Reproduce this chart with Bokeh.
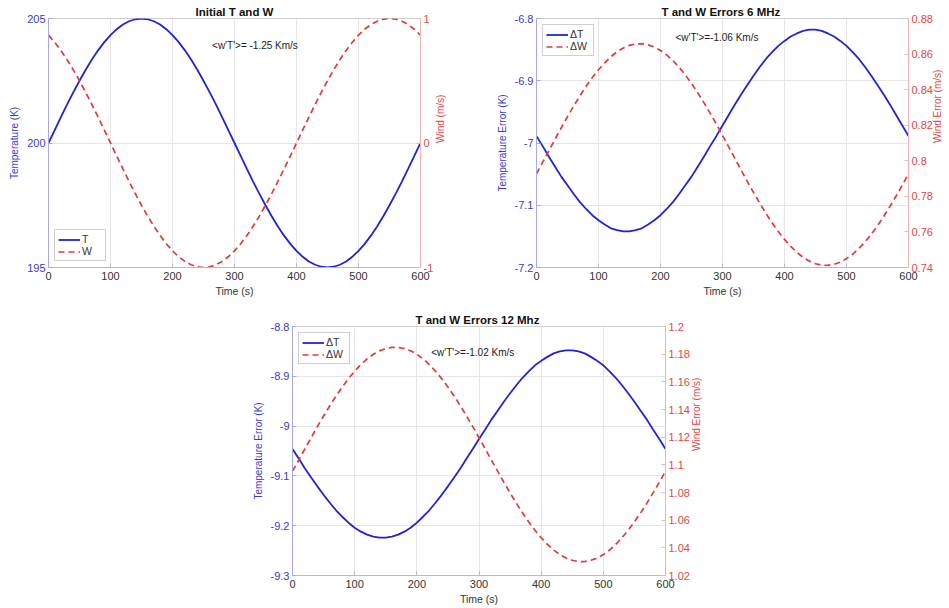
import math
from bokeh.plotting import figure
from bokeh.models import Range1d, LinearAxis, CustomJSTickFormatter, Label, Spacer
from bokeh.layouts import column, row
from bokeh.embed import file_html
from bokeh.resources import INLINE

# ---------------- data (every 10 s) ----------------
time_s = list(range(0, 601, 10))

temp_initial = [200.0, 200.52, 201.04, 201.55, 202.03, 202.5, 202.94, 203.35, 203.72, 204.05,
                204.33, 204.57, 204.76, 204.89, 204.97, 205.0, 204.97, 204.89, 204.76, 204.57,
                204.33, 204.05, 203.72, 203.35, 202.94, 202.5, 202.03, 201.55, 201.04, 200.52,
                200.0, 199.48, 198.96, 198.45, 197.97, 197.5, 197.06, 196.65, 196.28, 195.95,
                195.67, 195.43, 195.24, 195.11, 195.03, 195.0, 195.03, 195.11, 195.24, 195.43,
                195.67, 195.95, 196.28, 196.65, 197.06, 197.5, 197.97, 198.45, 198.96, 199.48, 200.0]
wind_initial = [0.866, 0.809, 0.743, 0.669, 0.588, 0.5, 0.407, 0.309, 0.208, 0.105,
                0.0, -0.105, -0.208, -0.309, -0.407, -0.5, -0.588, -0.669, -0.743, -0.809,
                -0.866, -0.914, -0.951, -0.978, -0.995, -1.0, -0.995, -0.978, -0.951, -0.914,
                -0.866, -0.809, -0.743, -0.669, -0.588, -0.5, -0.407, -0.309, -0.208, -0.105,
                0.0, 0.105, 0.208, 0.309, 0.407, 0.5, 0.588, 0.669, 0.743, 0.809,
                0.866, 0.914, 0.951, 0.978, 0.995, 1.0, 0.995, 0.978, 0.951, 0.914, 0.866]

dT_6mhz = [-6.989, -7.005, -7.022, -7.038, -7.054, -7.068, -7.082, -7.095, -7.106, -7.116,
           -7.124, -7.131, -7.137, -7.140, -7.142, -7.142, -7.140, -7.137, -7.131, -7.124,
           -7.116, -7.106, -7.095, -7.082, -7.068, -7.054, -7.038, -7.022, -7.005, -6.989,
           -6.972, -6.955, -6.938, -6.922, -6.907, -6.892, -6.878, -6.865, -6.854, -6.844,
           -6.836, -6.829, -6.824, -6.820, -6.818, -6.818, -6.820, -6.824, -6.829, -6.836,
           -6.844, -6.854, -6.865, -6.878, -6.892, -6.907, -6.922, -6.938, -6.955, -6.972, -6.989]
dW_6mhz = [0.7927, 0.7992, 0.8057, 0.8122, 0.8186, 0.8248, 0.8308, 0.8365, 0.8419, 0.8468,
           0.8512, 0.8551, 0.8585, 0.8613, 0.8634, 0.8649, 0.8657, 0.8658, 0.8652, 0.8640,
           0.8620, 0.8595, 0.8563, 0.8526, 0.8483, 0.8435, 0.8383, 0.8327, 0.8268, 0.8207,
           0.8143, 0.8078, 0.8013, 0.7948, 0.7884, 0.7822, 0.7762, 0.7705, 0.7651, 0.7602,
           0.7558, 0.7519, 0.7485, 0.7457, 0.7436, 0.7421, 0.7413, 0.7412, 0.7418, 0.7430,
           0.7450, 0.7475, 0.7507, 0.7544, 0.7587, 0.7635, 0.7687, 0.7743, 0.7802, 0.7863, 0.7927]

dT_12mhz = [-9.046, -9.065, -9.085, -9.103, -9.121, -9.138, -9.154, -9.169, -9.182, -9.194,
            -9.204, -9.212, -9.218, -9.222, -9.224, -9.224, -9.222, -9.218, -9.212, -9.204,
            -9.194, -9.182, -9.169, -9.154, -9.138, -9.121, -9.103, -9.085, -9.065, -9.046,
            -9.026, -9.007, -8.987, -8.969, -8.951, -8.934, -8.918, -8.903, -8.890, -8.878,
            -8.869, -8.861, -8.854, -8.850, -8.848, -8.848, -8.850, -8.854, -8.861, -8.869,
            -8.878, -8.890, -8.903, -8.918, -8.934, -8.951, -8.969, -8.987, -9.007, -9.026, -9.046]
dW_12mhz = [1.0954, 1.1034, 1.1116, 1.1196, 1.1276, 1.1353, 1.1427, 1.1497, 1.1563, 1.1623,
            1.1677, 1.1725, 1.1766, 1.1799, 1.1824, 1.1840, 1.1849, 1.1849, 1.1840, 1.1824,
            1.1799, 1.1766, 1.1725, 1.1677, 1.1623, 1.1563, 1.1497, 1.1427, 1.1353, 1.1276,
            1.1196, 1.1116, 1.1034, 1.0954, 1.0874, 1.0797, 1.0723, 1.0653, 1.0587, 1.0527,
            1.0473, 1.0425, 1.0384, 1.0351, 1.0326, 1.0310, 1.0301, 1.0301, 1.0310, 1.0326,
            1.0351, 1.0384, 1.0425, 1.0473, 1.0527, 1.0587, 1.0653, 1.0723, 1.0797, 1.0874, 1.0954]

x_ticks = [0, 100, 200, 300, 400, 500, 600]
ticks_T_initial = [195, 200, 205]
ticks_W_initial = [-1, 0, 1]
ticks_dT_6 = [-7.2, -7.1, -7.0, -6.9, -6.8]
ticks_dW_6 = [0.74, 0.76, 0.78, 0.80, 0.82, 0.84, 0.86, 0.88]
ticks_dT_12 = [-9.3, -9.2, -9.1, -9.0, -8.9, -8.8]
ticks_dW_12 = [1.02, 1.04, 1.06, 1.08, 1.10, 1.12, 1.14, 1.16, 1.18, 1.20]

# ---------------- styling ----------------
FONT = "Liberation Sans"
BLUE_LINE = "#2323d6"
BLUE_TXT = "#3a3acb"
BLUE_AX = "#a9a9e2"
RED_LINE = "#e23a3a"
RED_TXT = "#e04848"
RED_AX = "#f0b4b4"
GRID = "#e6e6e6"

fmt = CustomJSTickFormatter(code="return String(parseFloat(tick.toFixed(4)));")


def make_panel(title, t_vals, w_vals, t_range, w_range, t_ticks, w_ticks,
               t_label, w_label, t_name, w_name, legend_loc, note, note_xy,
               border_left, border_right, border_top, border_bottom, frame_w, r_standoff):
    p = figure(frame_width=frame_w, frame_height=249,
               x_range=Range1d(0, 600), y_range=Range1d(*t_range),
               output_backend="svg", toolbar_location=None,
               min_border_left=border_left, min_border_right=border_right,
               min_border_top=border_top, min_border_bottom=border_bottom,
               background_fill_color="white", border_fill_color="white")
    p.extra_y_ranges = {"w": Range1d(*w_range)}

    p.title.text = title
    p.title.align = "center"
    p.title.text_font = FONT
    p.title.text_font_size = "11.5px"
    p.title.text_font_style = "bold"
    p.title.text_color = "#111111"
    p.title.standoff = 1
    p.title.offset = 0

    p.outline_line_color = "#cfcfcf"
    p.xgrid.grid_line_color = GRID
    p.ygrid.grid_line_color = GRID

    # x axis
    xa = p.xaxis[0]
    xa.ticker = x_ticks
    xa.axis_label = "Time (s)"
    xa.axis_label_text_font = FONT
    xa.axis_label_text_font_size = "10.5px"
    xa.axis_label_text_font_style = "normal"
    xa.axis_label_text_color = "#333333"
    xa.axis_label_standoff = 2
    xa.major_label_text_font = FONT
    xa.major_label_text_font_size = "11px"
    xa.major_label_text_color = "#333333"
    xa.major_label_standoff = 4
    xa.axis_line_color = "#bbbbbb"
    xa.major_tick_line_color = "#bbbbbb"
    xa.major_tick_in = 4
    xa.major_tick_out = 0
    xa.minor_tick_line_color = None

    # left axis
    ya = p.yaxis[0]
    ya.ticker = t_ticks
    ya.formatter = fmt
    ya.axis_label = t_label
    ya.axis_label_text_font = FONT
    ya.axis_label_text_font_size = "10px"
    ya.axis_label_text_font_style = "normal"
    ya.axis_label_text_color = BLUE_TXT
    ya.axis_label_standoff = 4
    ya.major_label_text_font = FONT
    ya.major_label_text_font_size = "11px"
    ya.major_label_text_color = BLUE_TXT
    ya.major_label_standoff = 3
    ya.axis_line_color = BLUE_AX
    ya.major_tick_line_color = BLUE_AX
    ya.major_tick_in = 4
    ya.major_tick_out = 0
    ya.minor_tick_line_color = None

    # right axis
    ra = LinearAxis(y_range_name="w", ticker=w_ticks, formatter=fmt)
    ra.axis_label = w_label
    ra.axis_label_text_font = FONT
    ra.axis_label_text_font_size = "10px"
    ra.axis_label_text_font_style = "normal"
    ra.axis_label_text_color = RED_TXT
    ra.axis_label_standoff = r_standoff
    try:
        ra.axis_label_orientation = math.pi / 2
    except Exception:
        pass
    ra.major_label_text_font = FONT
    ra.major_label_text_font_size = "11px"
    ra.major_label_text_color = RED_TXT
    ra.major_label_standoff = 3
    ra.axis_line_color = RED_AX
    ra.major_tick_line_color = RED_AX
    ra.major_tick_in = 4
    ra.major_tick_out = 0
    ra.minor_tick_line_color = None
    p.add_layout(ra, "right")

    p.line(time_s, t_vals, line_color=BLUE_LINE, line_width=1.8, legend_label=t_name)
    p.line(time_s, w_vals, line_color=RED_LINE, line_width=1.7, line_dash="6 4",
           y_range_name="w", legend_label=w_name)

    p.add_layout(Label(x=note_xy[0], y=note_xy[1], text=note, text_align="center",
                       text_baseline="middle", text_font=FONT, text_font_size="10px",
                       text_color="#222222"))

    lg = p.legend[0]
    lg.location = legend_loc
    lg.label_text_font = FONT
    lg.label_text_font_size = "10.5px"
    lg.label_text_color = "#333333"
    lg.glyph_width = 22
    lg.glyph_height = 11
    lg.label_standoff = 2
    lg.label_height = 11
    lg.padding = 3
    lg.spacing = 0
    lg.margin = 6
    lg.border_line_color = "#a0a0a0"
    lg.background_fill_alpha = 1.0
    return p


p1 = make_panel("Initial T and W", temp_initial, wind_initial, (195, 205), (-1, 1),
                ticks_T_initial, ticks_W_initial, "Temperature (K)", "Wind (m/s)", "T", "W",
                "bottom_left", "<w'T'>= -1.25 Km/s", (333, 203.9),
                48, 60, 18, 33, 372, 4)
p2 = make_panel("T and W Errors  6 MHz", dT_6mhz, dW_6mhz, (-7.2, -6.8), (0.74, 0.88),
                ticks_dT_6, ticks_dW_6, "Temperature Error (K)", "Wind Error (m/s)", "ΔT", "ΔW",
                "top_left", "<w'T'>=-1.06 Km/s", (291, -6.83),
                56, 41, 18, 33, 372, 2)
p3 = make_panel("T and W Errors  12 Mhz", dT_12mhz, dW_12mhz, (-9.3, -8.8), (1.02, 1.2),
                ticks_dT_12, ticks_dW_12, "Temperature Error (K)", "Wind Error (m/s)", "ΔT", "ΔW",
                "top_left", "<w'T'>=-1.02 Km/s", (290, -8.852),
                52, 50, 26, 33, 373, 4)

layout = column(row(p1, p2), row(Spacer(width=240, height=308), p3))

open("out.html", "w").write(file_html(layout, INLINE))
